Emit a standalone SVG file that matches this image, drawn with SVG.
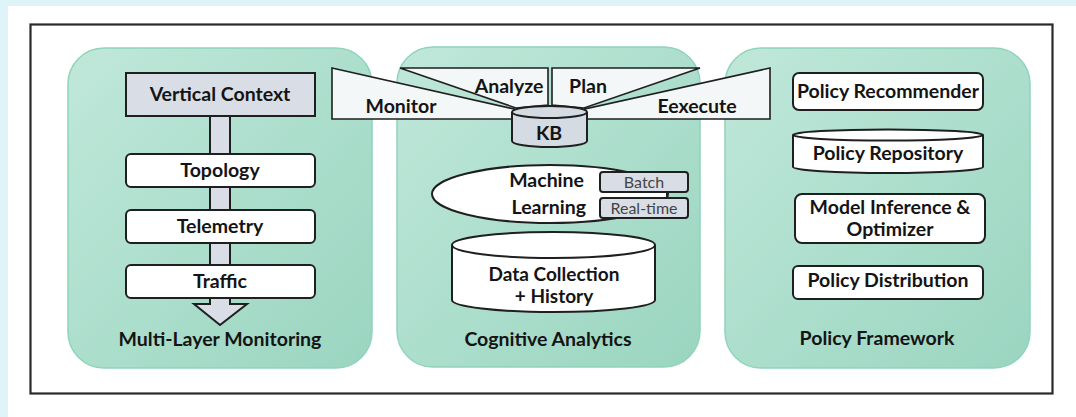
<svg xmlns="http://www.w3.org/2000/svg" width="1076" height="417" viewBox="0 0 1076 417">
<defs>
<linearGradient id="pg" x1="0" y1="0" x2="1" y2="1">
<stop offset="0" stop-color="#c0e8da"/>
<stop offset="1" stop-color="#9ad5c0"/>
</linearGradient>
</defs>
<style>
text{font-family:Lato,"Liberation Sans",sans-serif;font-weight:bold;fill:#141414;text-anchor:middle}
.panel{fill:url(#pg);stroke:#8fd4bb;stroke-width:1.5}
.box{fill:#fff;stroke:#1f1f1f;stroke-width:2}
.gray{fill:#d9dee6;stroke:#1f1f1f;stroke-width:2}
.mape{fill:#f3f7f7;stroke:#1f1f1f;stroke-width:1.6;stroke-linejoin:miter}
.t{font-size:19.5px}
.ttl{font-size:19.5px}
.small{font-size:16px;font-weight:normal;fill:#444}
</style>
<rect x="0" y="0" width="1076" height="417" fill="#fff"/>
<rect x="0" y="0" width="1076" height="6" fill="#dff4f8"/>
<rect x="0" y="0" width="8" height="417" fill="#dff4f8"/>
<rect x="30.5" y="24.5" width="1022" height="369" fill="#fff" stroke="#2a2a2a" stroke-width="2.2"/>

<g id="panel-monitoring">
<rect class="panel" x="68" y="48" width="304" height="320" rx="36"/>
<polygon class="gray" points="210,115 230,115 230,304 247,304 220,325 194,304 210,304" stroke-width="1.6"/>
<g id="vertical-context"><rect class="gray" x="126" y="73" width="189" height="43"/><text class="t" x="220" y="101">Vertical Context</text></g>
<g id="topology"><rect class="box" x="126" y="154" width="189" height="33" rx="5"/><text class="t" x="220" y="177">Topology</text></g>
<g id="telemetry"><rect class="box" x="126" y="210" width="189" height="33" rx="5"/><text class="t" x="220" y="233">Telemetry</text></g>
<g id="traffic"><rect class="box" x="126" y="265" width="189" height="33" rx="5"/><text class="t" x="220" y="288">Traffic</text></g>
<text class="ttl" x="220" y="346">Multi-Layer Monitoring</text>
</g>

<g id="panel-analytics">
<rect class="panel" x="397" y="47" width="303" height="320" rx="36"/>
<g id="ml"><ellipse cx="550" cy="194" rx="118" ry="29" fill="#fff" stroke="#1f1f1f" stroke-width="2"/>
<text class="t" x="584" y="187" style="text-anchor:end">Machine</text>
<text class="t" x="586" y="214" style="text-anchor:end">Learning</text></g>
<line x1="667" y1="191" x2="667" y2="198" stroke="#1f1f1f" stroke-width="2"/>
<g id="batch"><rect class="gray" x="600" y="172" width="88" height="20" rx="3"/><text class="small" x="644" y="188">Batch</text></g>
<g id="realtime"><rect class="gray" x="600" y="198" width="88" height="20" rx="3"/><text class="small" x="644" y="214">Real-time</text></g>
<g id="data-collection">
<path d="M452,245 L452,300 A101,12 0 0 0 655,300 L655,245" fill="#fff" stroke="#1f1f1f" stroke-width="2"/>
<ellipse cx="553.5" cy="245" rx="101.5" ry="13" fill="#fff" stroke="#1f1f1f" stroke-width="2"/>
<text class="t" x="554" y="281" style="font-size:19px">Data Collection</text>
<text class="t" x="554" y="303" style="font-size:19px">+ History</text>
</g>
<text class="ttl" x="548" y="346">Cognitive Analytics</text>
</g>

<g id="panel-policy">
<rect class="panel" x="725" y="48" width="305" height="320" rx="36"/>
<g id="policy-recommender"><rect class="box" x="793" y="73" width="190" height="37" rx="6"/><text class="t" x="888" y="98">Policy Recommender</text></g>
<g id="policy-repository">
<path d="M793,135 L793,167 A95,6 0 0 0 983,167 L983,135" fill="#fff" stroke="#1f1f1f" stroke-width="2"/>
<ellipse cx="888" cy="135" rx="95" ry="5.5" fill="#fff" stroke="#1f1f1f" stroke-width="2"/>
<text class="t" x="888" y="160">Policy Repository</text></g>
<g id="model-inference"><rect class="box" x="795" y="194" width="190" height="49" rx="7"/><text class="t" x="890" y="214">Model Inference &amp;</text><text class="t" x="890" y="236">Optimizer</text></g>
<g id="policy-distribution"><rect class="box" x="793" y="266" width="190" height="33" rx="5"/><text class="t" x="888" y="287">Policy Distribution</text></g>
<text class="ttl" x="877" y="345">Policy Framework</text>
</g>

<g id="mape">
<g id="monitor"><polygon class="mape" points="332,68 514,109 514,119 332,119"/><text class="t" x="401" y="113">Monitor</text></g>
<g id="analyze"><polygon class="mape" points="400,68 548,68 548,105 516,108"/><text class="t" x="509" y="93">Analyze</text></g>
<g id="plan"><polygon class="mape" points="552,68 700,68 584,108 552,105"/><text class="t" x="588" y="93">Plan</text></g>
<g id="execute"><polygon class="mape" points="770,68 770,119 585,119 585,109"/><text class="t" x="697" y="113">Eexecute</text></g>
<g id="kb">
<path d="M512,112 L512,141 A37.5,6 0 0 0 587,141 L587,112" fill="#d5dbe3" stroke="#1f1f1f" stroke-width="2"/>
<ellipse cx="549.5" cy="112" rx="37.5" ry="6" fill="#d5dbe3" stroke="#1f1f1f" stroke-width="2"/>
<text class="t" x="549" y="140">KB</text>
</g>
</g>
</svg>
